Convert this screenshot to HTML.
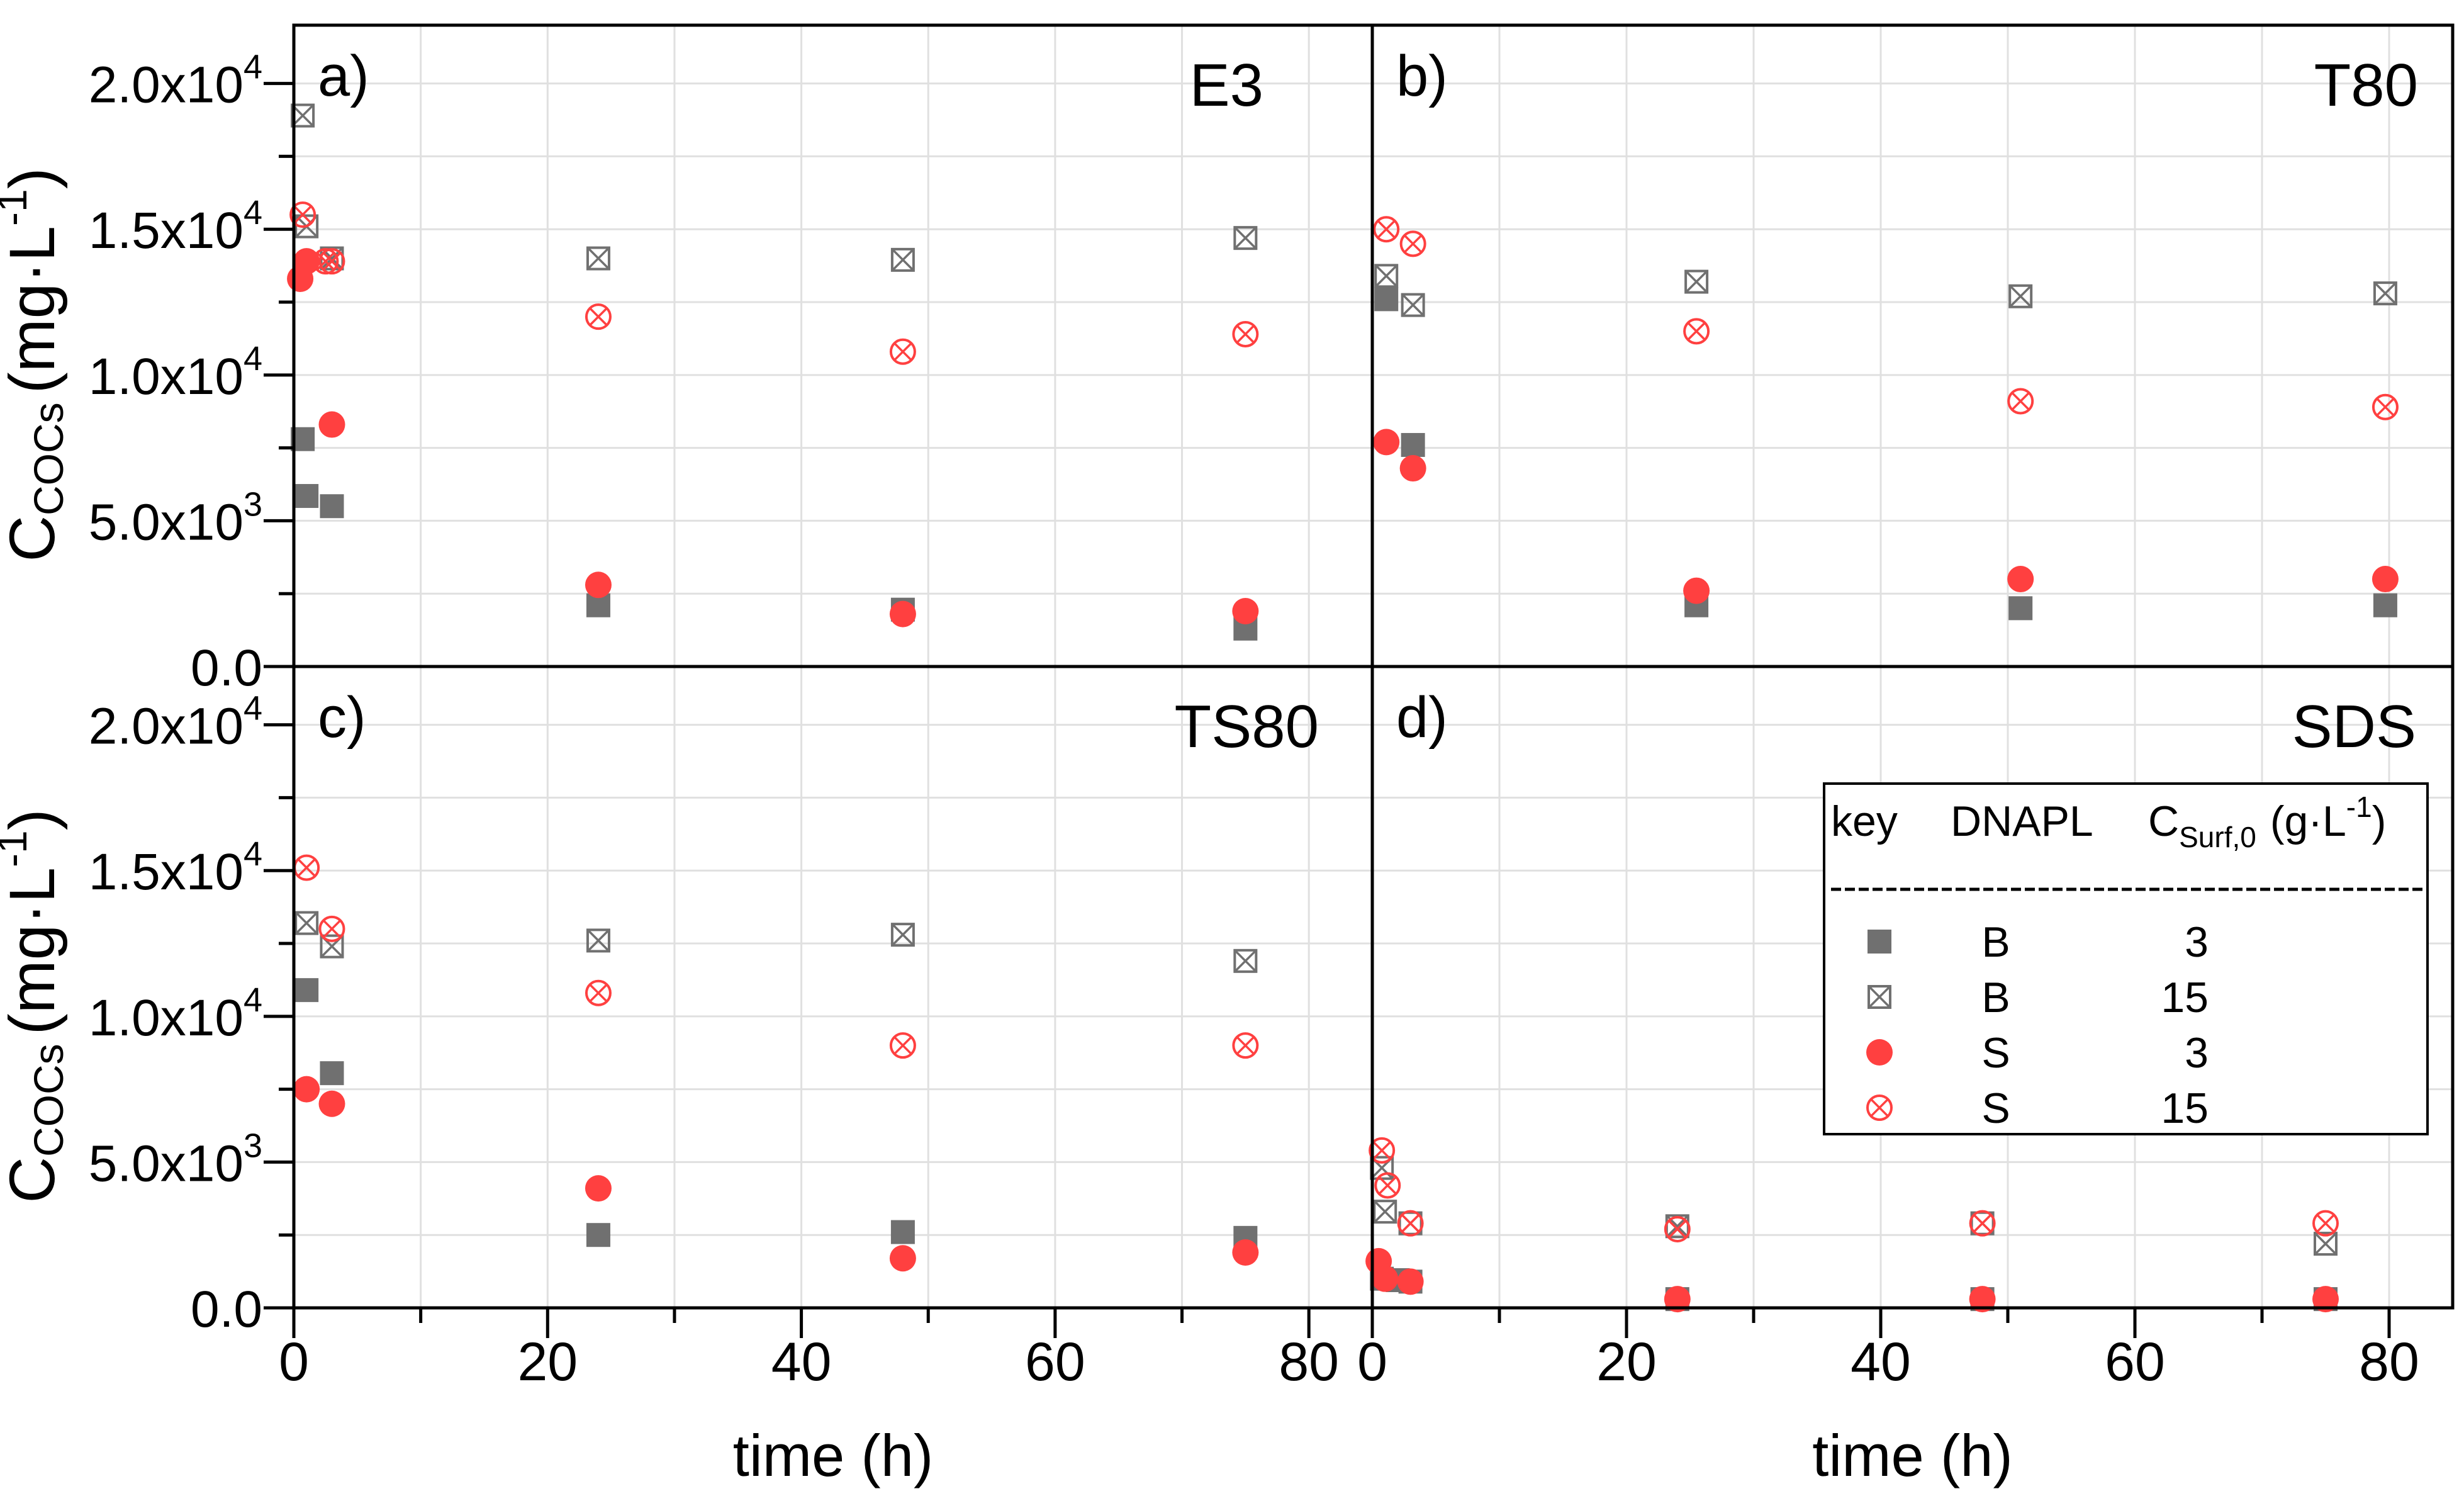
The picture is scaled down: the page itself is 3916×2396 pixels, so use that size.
<!DOCTYPE html>
<html><head><meta charset="utf-8"><style>
html,body{margin:0;padding:0;background:#fff;}
svg{display:block;font-family:"Liberation Sans",Arial,sans-serif;}
</style></head><body>
<svg id="chart" width="3916" height="2396" viewBox="0 0 3916 2396" xmlns="http://www.w3.org/2000/svg">
<g id="grid"></g>
<g id="marks"></g>
<g id="axes"></g>
</svg>
<script>
const xTicks=[0,20,40,60,80];
const yTicks=[0,5000,10000,15000,20000];
const yTickLabels=[["0.0",""],["5.0x10","3"],["1.0x10","4"],["1.5x10","4"],["2.0x10","4"]];
const panelNames=["E3","T80","TS80","SDS"];
const panelLetters=["a)","b)","c)","d)"];
// panel a (E3)
const aB3x=[0.7,1,3,24,48,75], aB3y=[7800,5850,5500,2100,1950,1300];
const aB15x=[0.7,1,3,24,48,75], aB15y=[18900,15100,14000,14000,13950,14700];
const aS3x=[0.5,1,3,24,48,75], aS3y=[13300,13900,8300,2800,1800,1900];
const aS15x=[0.7,2.5,3,24,48,75], aS15y=[15500,13900,13900,12000,10800,11400];
// panel b (T80)
const bB3x=[1.1,3.2,25.5,51,79.7], bB3y=[12600,7600,2100,2000,2100];
const bB15x=[1.1,3.2,25.5,51,79.7], bB15y=[13400,12400,13200,12700,12800];
const bS3x=[1.1,3.2,25.5,51,79.7], bS3y=[7700,6800,2600,3000,3000];
const bS15x=[1.1,3.2,25.5,51,79.7], bS15y=[15000,14500,11500,9100,8900];
// panel c (TS80)
const cB3x=[1,3,24,48,75], cB3y=[10900,8050,2500,2600,2400];
const cB15x=[1,3,24,48,75], cB15y=[13200,12400,12600,12800,11900];
const cS3x=[1,3,24,48,75], cS3y=[7500,7000,4100,1700,1900];
const cS15x=[1,3,24,48,75], cS15y=[15100,13000,10800,9000,9000];
// panel d (SDS)
const dB3x=[0.75,2,3,24,48,75], dB3y=[1000,950,900,300,300,300];
const dB15x=[0.75,1,3,24,48,75], dB15y=[4800,3300,2900,2800,2900,2200];
const dS3x=[0.5,1,3,24,48,75], dS3y=[1600,1000,900,300,300,300];
const dS15x=[0.75,1.2,3,24,48,75], dS15y=[5400,4200,2900,2700,2900,2900];

const NS="http://www.w3.org/2000/svg";
const GRAY="#707070", RED="#ff4040";
const XMAX=85, YMAX=22000;
const panels=[{x0:467,x1:2181,y0:40,y1:1059},{x0:2181,x1:3898,y0:40,y1:1059},{x0:467,x1:2181,y0:1059,y1:2078},{x0:2181,x1:3898,y0:1059,y1:2078}];
const titleInset=[173,55,85,58];
const series=[
 [[aB3x,aB3y],[aB15x,aB15y],[aS3x,aS3y],[aS15x,aS15y]],
 [[bB3x,bB3y],[bB15x,bB15y],[bS3x,bS3y],[bS15x,bS15y]],
 [[cB3x,cB3y],[cB15x,cB15y],[cS3x,cS3y],[cS15x,cS15y]],
 [[dB3x,dB3y],[dB15x,dB15y],[dS3x,dS3y],[dS15x,dS15y]]];
const kinds=["B3","B15","S3","S15"];
function mk(tag,attrs,parent){const e=document.createElementNS(NS,tag);for(const k in attrs)e.setAttribute(k,attrs[k]);parent.appendChild(e);return e;}
const grid=document.getElementById('grid'),marks=document.getElementById('marks'),axes=document.getElementById('axes');
function xs(p,v){return p.x0+(p.x1-p.x0)*v/XMAX;}
function ys(p,v){return p.y1-(p.y1-p.y0)*v/YMAX;}
function marker(kind,cx,cy,parent){
  const g=mk('g',{},parent);
  
  
  const s=19,r=21;
  if(kind==="B3"){mk('rect',{x:cx-s,y:cy-s,width:2*s,height:2*s,fill:GRAY},g);}
  else if(kind==="B15"){mk('rect',{x:cx-s+2,y:cy-s+2,width:2*s-4,height:2*s-4,fill:"none",stroke:GRAY,"stroke-width":4},g);
    mk('path',{d:`M${cx-s+2},${cy-s+2}L${cx+s-2},${cy+s-2}M${cx+s-2},${cy-s+2}L${cx-s+2},${cy+s-2}`,stroke:GRAY,"stroke-width":3.5},g);}
  else if(kind==="S3"){mk('circle',{cx:cx,cy:cy,r:r,fill:RED},g);}
  else {mk('circle',{cx:cx,cy:cy,r:r-2,fill:"none",stroke:RED,"stroke-width":4},g);
    const d=(r-2)*0.72;mk('path',{d:`M${cx-d},${cy-d}L${cx+d},${cy+d}M${cx+d},${cy-d}L${cx-d},${cy+d}`,stroke:RED,"stroke-width":3.5},g);}
  return g;
}
panels.forEach((p,i)=>{
  for(let v=0;v<=XMAX;v+=10){const x=xs(p,v);const l=mk('line',{x1:x,x2:x,y1:p.y0,y2:p.y1,stroke:"#e0e0e0","stroke-width":3},grid);
    }
  for(let v=0;v<=YMAX;v+=2500){const y=ys(p,v);const l=mk('line',{x1:p.x0,x2:p.x1,y1:y,y2:y,stroke:"#e0e0e0","stroke-width":3},grid);
    }
  series[i].forEach((sr,k)=>{sr[0].forEach((xv,j)=>{marker(kinds[k],xs(p,xv),ys(p,sr[1][j]),marks);});});
  const fr=mk('rect',{x:p.x0,y:p.y0,width:p.x1-p.x0,height:p.y1-p.y0,fill:"none",stroke:"#000","stroke-width":5},axes);
  
  const lt=mk('text',{x:p.x0+38,y:p.y0+112,"font-size":92},axes);lt.textContent=panelLetters[i];
  
  const nt=mk('text',{x:p.x1-titleInset[i],y:p.y0+128,"font-size":96,"text-anchor":"end"},axes);nt.textContent=panelNames[i];
  
  if(i%2===0){
    for(let v=0;v<=YMAX;v+=2500){const y=ys(p,v);const major=v%5000===0;
      mk('line',{x1:p.x0-(major?48:24),x2:p.x0,y1:y,y2:y,stroke:"#000","stroke-width":5},axes);}
    yTicks.forEach((v,j)=>{const t=mk('text',{x:p.x0-50,y:ys(p,v)+30,"font-size":82,"text-anchor":"end"},axes);
      
      t.textContent=yTickLabels[j][0];
      if(yTickLabels[j][1]){const s=mk('tspan',{"font-size":54,dy:-38},t);s.textContent=yTickLabels[j][1];}});
    const cy=(p.y0+p.y1)/2+30;
    const yt=mk('text',{transform:`translate(86,${cy}) rotate(-90)`,"font-size":102,"text-anchor":"middle"},axes);
    
    yt.appendChild(document.createTextNode('C'));
    const sb=mk('tspan',{"font-size":66,dy:14},yt);sb.textContent='COCs';
    const r1=mk('tspan',{dy:-14,dx:14},yt);r1.textContent='(mg·L';
    const r2=mk('tspan',{"font-size":66,dy:-44},yt);r2.textContent='-1';
    const r3=mk('tspan',{dy:44},yt);r3.textContent=')';
  }
  if(i>=2){
    for(let v=0;v<=XMAX;v+=10){const x=xs(p,v);const major=v%20===0;
      mk('line',{x1:x,x2:x,y1:p.y1,y2:p.y1+(major?48:24),stroke:"#000","stroke-width":5},axes);}
    xTicks.forEach(v=>{const t=mk('text',{x:xs(p,v),y:p.y1+115,"font-size":86,"text-anchor":"middle"},axes);
      t.textContent=v;});
    const xt=mk('text',{x:(p.x0+p.x1)/2,y:2345,"font-size":94,"text-anchor":"middle"},axes);
    xt.textContent='time (h)';
  }
});
const lg=mk('g',{},axes);


mk('rect',{x:2899,y:1245,width:959,height:557,fill:"#fff",stroke:"#000","stroke-width":4},lg);
const h1=mk('text',{x:2910,y:1328,"font-size":68},lg);h1.textContent='key';
const h2=mk('text',{x:3100,y:1328,"font-size":68},lg);h2.textContent='DNAPL';
const h3=mk('text',{x:3414,y:1328,"font-size":68},lg);h3.appendChild(document.createTextNode('C'));
const h3s=mk('tspan',{"font-size":46,dy:18},h3);h3s.textContent='Surf,0';
const h3r=mk('tspan',{dy:-18,dx:22},h3);h3r.textContent='(g·L';
const h3e=mk('tspan',{"font-size":46,dy:-30},h3);h3e.textContent='-1';
const h3c=mk('tspan',{dy:30},h3);h3c.textContent=')';
mk('line',{x1:2910,x2:3850,y1:1413,y2:1413,stroke:"#000","stroke-width":5,"stroke-dasharray":"16,6"},lg);
const legRows=[["B3","B","3",1496],["B15","B","15",1584],["S3","S","3",1672],["S15","S","15",1760]];
legRows.forEach(r=>{
  const e=marker(r[0],2987,r[3],lg);
  
  const a=mk('text',{x:3172,y:r[3]+24,"font-size":68,"text-anchor":"middle"},lg);a.textContent=r[1];
  const b=mk('text',{x:3510,y:r[3]+24,"font-size":68,"text-anchor":"end"},lg);b.textContent=r[2];
});
</script>
</body></html>
